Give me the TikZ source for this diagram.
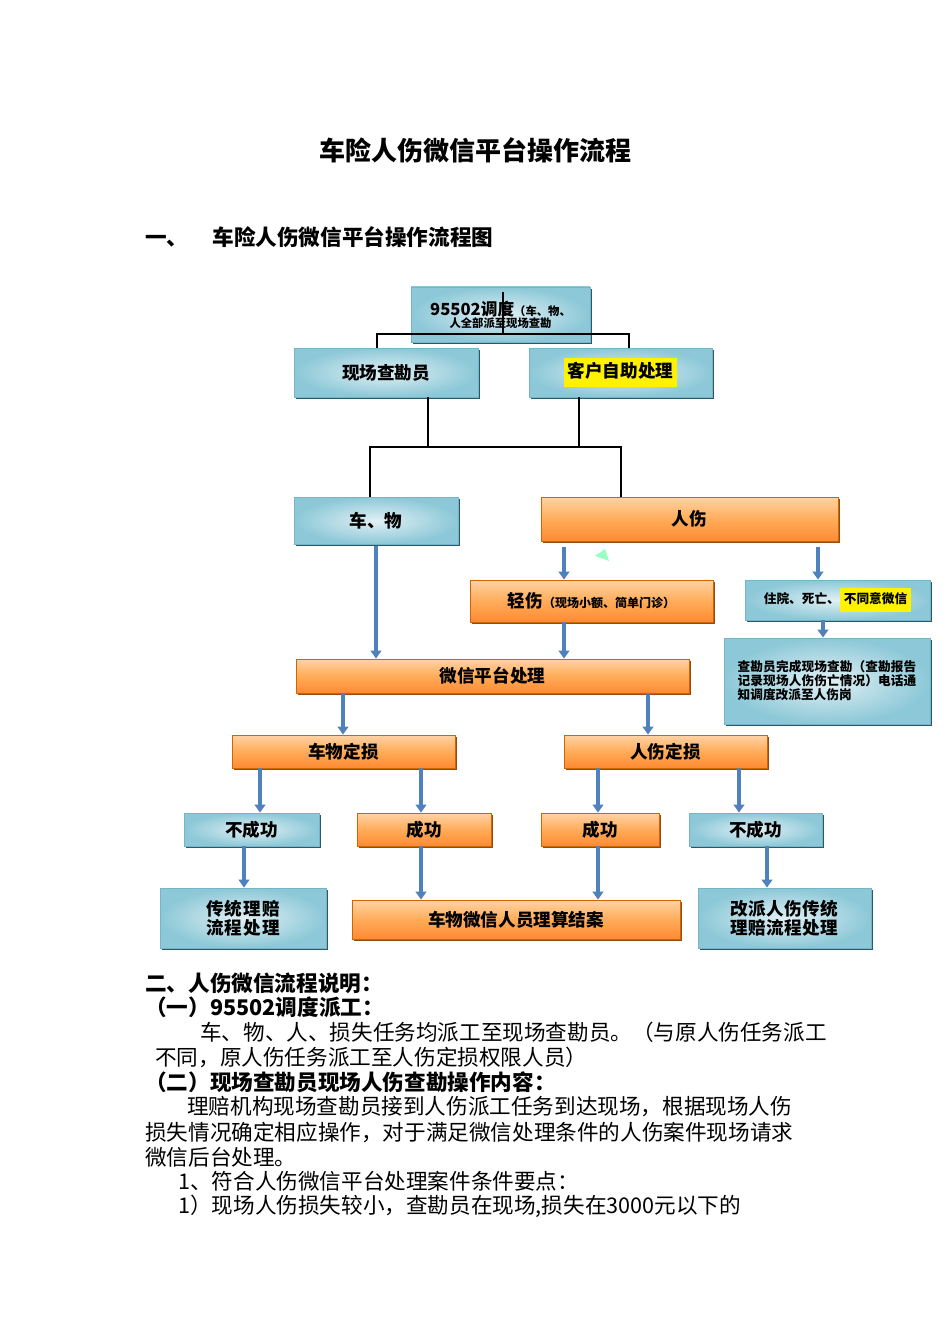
\documentclass[tikz,border=0pt]{standalone}
\usepackage{fontspec}
\setmainfont{Noto Sans CJK SC}
\XeTeXlinebreaklocale "zh"
\XeTeXlinebreakskip=0pt plus 1pt
\usetikzlibrary{arrows.meta,shadows}
\definecolor{arrblue}{RGB}{79,129,189}
\definecolor{bedge}{RGB}{120,180,200}
\definecolor{bout}{RGB}{140,200,215}
\definecolor{bin}{RGB}{225,240,245}
\definecolor{oshadow}{RGB}{150,75,20}
\definecolor{bshadow}{RGB}{40,90,110}
\begin{document}
\begin{tikzpicture}[x=0.75pt,y=-0.75pt,
 bbox/.style={draw=bedge,line width=0.6pt,inner color=bin,outer color=bout,
   drop shadow={shadow xshift=1.5pt,shadow yshift=-1.5pt,fill=bshadow,opacity=1},align=center,font=\bfseries\fontsize{13.2}{14.5}\selectfont,inner sep=1pt},
 obox/.style={draw=orange!80!black,line width=0.6pt,top color=orange!35,bottom color=orange!85!red!80,middle color=orange!65,
   drop shadow={shadow xshift=1.5pt,shadow yshift=-1.5pt,fill=oshadow,opacity=1},align=center,font=\bfseries\fontsize{13.2}{14.5}\selectfont,inner sep=1pt},
 arr/.style={draw=arrblue,line width=2.4pt,-{Triangle[width=8pt,length=6pt]}},
 bl/.style={line width=1.6pt},
 txt/.style={anchor=west,inner sep=0pt,font=\fontsize{16.2}{18}\selectfont},
 btxt/.style={txt,font=\bfseries\fontsize{16.2}{18}\selectfont}]
\useasboundingbox (0,0) rectangle (950,1344);
\node[font=\bfseries\fontsize{19.5}{22}\selectfont] (title) at (475,150) {车险人伤微信平台操作流程};
\node[btxt] (h1) at (145,237) {一、\hspace{18pt}车险人伤微信平台操作流程图};

\node[bbox,minimum width=134.25pt,minimum height=41.25pt,font=\bfseries\fontsize{12.5}{11}\selectfont] (top) at (500.5,314.5) {95502调度{\fontsize{8.5}{10}\selectfont（车、物、}\\[-2pt]{\fontsize{8.5}{10}\selectfont 人全部派至现场查勘}};
\node[bbox,minimum width=138pt,minimum height=36.75pt] (xc) at (386,372.5) {现场查勘员};
\node[bbox,minimum width=137.25pt,minimum height=36.75pt] (kh) at (620.5,372.5) {\colorbox{yellow}{\strut 客户自助处理}};
\node[bbox,minimum width=123pt,minimum height=35.25pt] (cw) at (376,520.5) {车、物};
\node[obox,minimum width=222.75pt,minimum height=33pt] (rs) at (689.5,519) {人伤};
\node[obox,minimum width=182.25pt,minimum height=31.5pt] (qs) at (591.5,601) {轻伤{\fontsize{9}{10}\selectfont（现场小额、简单门诊）}};
\node[bbox,minimum width=138.75pt,minimum height=30pt,font=\bfseries\fontsize{9.5}{11}\selectfont] (zy) at (837.5,600) {住院、死亡、\colorbox{yellow}{\strut 不同意微信}};
\node[bbox,minimum width=154.5pt,minimum height=64.5pt,align=justify,font=\bfseries\fontsize{9.5}{10.5}\selectfont,text width=134pt] (ck) at (827,681) {查勘员完成现场查勘（查勘报告记录现场人伤伤亡情况）电话通知调度改派至人伤岗\par\vspace{12pt}};
\node[obox,minimum width=294.75pt,minimum height=25.5pt] (wx) at (492.5,676) {微信平台处理};
\node[obox,minimum width=167.25pt,minimum height=24.75pt] (cd) at (343.5,751.5) {车物定损};
\node[obox,minimum width=152.25pt,minimum height=24.75pt] (rd) at (665.5,751.5) {人伤定损};
\node[bbox,minimum width=101.25pt,minimum height=24.75pt] (bl) at (251.5,829.5) {不成功};
\node[obox,minimum width=100.5pt,minimum height=24.75pt] (cl) at (424,829.5) {成功};
\node[obox,minimum width=88.5pt,minimum height=24.75pt] (cr) at (600,829.5) {成功};
\node[bbox,minimum width=99.75pt,minimum height=24.75pt] (br) at (755.5,829.5) {不成功};
\node[bbox,minimum width=124.5pt,minimum height=45pt,text width=100pt] (ct) at (243,918) {传统理赔流程处理};
\node[obox,minimum width=246pt,minimum height=29.25pt] (js) at (516,919.5) {车物微信人员理算结案};
\node[bbox,minimum width=129.75pt,minimum height=45pt,text width=100pt] (gp) at (784.5,918) {改派人伤传统理赔流程处理};

% black connectors
\coordinate (j1) at (503,334);
\draw[bl] (503,292) -- (j1);
\draw[bl] (xc.north -| 377,0) |- (j1) -| (kh.north -| 629,0);
\coordinate (j2) at (500,447);
\draw[bl] (xc.south -| 428,0) -- (428,447);
\draw[bl] (kh.south -| 579,0) -- (579,447);
\draw[bl] (cw.north -| 370,0) |- (j2) -| (rs.north -| 621,0);

% blue arrows
\draw[arr] ([yshift=-1]cw.south) -- (wx.north -| 376,0);
\draw[arr] ([yshift=-4]rs.south -| 564,0) -- (qs.north -| 564,0);
\draw[arr] ([yshift=-4]rs.south -| 818,0) -- (zy.north -| 818,0);
\draw[arr] (qs.south -| 564,0) -- (wx.north -| 564,0);
\draw[arr] (zy.south -| 823,0) -- (ck.north -| 823,0);
\draw[arr] (wx.south -| 343,0) -- (cd.north -| 343,0);
\draw[arr] (wx.south -| 648,0) -- (rd.north -| 648,0);
\draw[arr] (cd.south -| 260,0) -- (bl.north -| 260,0);
\draw[arr] (cd.south -| 421,0) -- (cl.north -| 421,0);
\draw[arr] (rd.south -| 598,0) -- (cr.north -| 598,0);
\draw[arr] (rd.south -| 739,0) -- (br.north -| 739,0);
\draw[arr] (bl.south -| 244,0) -- (ct.north -| 244,0);
\draw[arr] (cl.south -| 421,0) -- (js.north -| 421,0);
\draw[arr] (cr.south -| 598,0) -- (js.north -| 598,0);
\draw[arr] (br.south -| 767,0) -- (gp.north -| 767,0);
\fill[green!60!cyan!40] (595,556) -- (605,549) -- (609,561) -- cycle;

% text
\node[btxt] (t1) at (145,983) {二、人伤微信流程说明：};
\node[btxt] (t2) at (145,1007) {（一）95502调度派工：};
\node[txt] (t3) at (200,1032) {车、物、人、损失任务均派工至现场查勘员。（与原人伤任务派工};
\node[txt] (t4) at (155,1057) {不同，原人伤任务派工至人伤定损权限人员）};
\node[btxt] (t5) at (145,1082) {（二）现场查勘员现场人伤查勘操作内容：};
\node[txt] (t6) at (187,1107) {理赔机构现场查勘员接到人伤派工任务到达现场，根据现场人伤};
\node[txt] (t7) at (145,1132) {损失情况确定相应操作，对于满足微信处理条件的人伤案件现场请求};
\node[txt] (t8) at (145,1157) {微信后台处理。};
\node[txt] (t9) at (178,1181) {1、符合人伤微信平台处理案件条件要点：};
\node[txt] (t10) at (178,1206) {1）现场人伤损失较小，查勘员在现场,损失在3000元以下的};
\end{tikzpicture}
\end{document}
